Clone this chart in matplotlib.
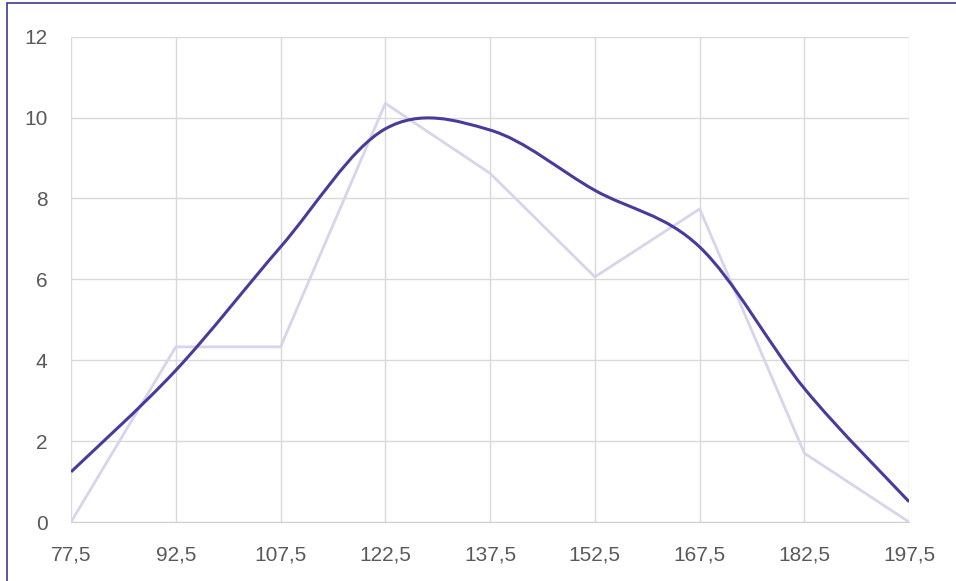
import matplotlib
matplotlib.use("Agg")
import matplotlib.pyplot as plt
import numpy as np
from matplotlib.path import Path
from matplotlib.patches import PathPatch, Rectangle

# class midpoints and the two series
midpoints = [77.5, 92.5, 107.5, 122.5, 137.5, 152.5, 167.5, 182.5, 197.5]
tick_labels = ["77,5", "92,5", "107,5", "122,5", "137,5", "152,5", "167,5", "182,5", "197,5"]
frequency = [0.0, 4.33, 4.33, 10.35, 8.62, 6.06, 7.74, 1.70, 0.0]
fitted = [1.24, 3.75, 6.8, 9.72, 9.69, 8.2, 6.8, 3.3, 0.5]


def smooth_path(x, y):
    """Excel-like smoothed line: cubic Bezier through every point."""
    pts = np.column_stack([x, y])
    verts = [pts[0]]
    codes = [Path.MOVETO]
    n = len(pts)
    for i in range(n - 1):
        p0 = pts[i - 1] if i > 0 else pts[i]
        p1, p2 = pts[i], pts[i + 1]
        p3 = pts[i + 2] if i + 2 < n else pts[i + 1]
        c1 = p1 + (p2 - p0) / 6.0
        c2 = p2 - (p3 - p1) / 6.0
        verts += [c1, c2, p2]
        codes += [Path.CURVE4] * 3
    return Path(verts, codes)


fig = plt.figure(figsize=(9.56, 5.81), dpi=100)
ax = fig.add_axes([0.0743, 0.1015, 0.8767, 0.8355])

grid_color = "#D9D9D9"
ax.plot(midpoints, frequency, color="#D8D4EC", lw=2.0, zorder=3)
ax.add_patch(PathPatch(smooth_path(midpoints, fitted), facecolor="none",
                       edgecolor="#4A3A9C", lw=2.2, zorder=4))

ax.set_xlim(midpoints[0], midpoints[-1])
ax.set_ylim(0, 12)
ax.set_xticks(midpoints)
ax.set_xticklabels(tick_labels)
ax.set_yticks(range(0, 13, 2))
ax.grid(True, color=grid_color, lw=1.0)
ax.set_axisbelow(True)
for side in ["left", "right", "top"]:
    ax.spines[side].set_visible(False)
ax.spines["bottom"].set_color("#D0D0D0")
ax.tick_params(length=0, labelsize=15, labelcolor="#595959")
ax.tick_params(axis="y", pad=17)
ax.tick_params(axis="x", pad=17)
for lab in ax.get_xticklabels() + ax.get_yticklabels():
    lab.set_family("Liberation Sans")

# chart frame (only left and top edges show in the crop)
fig.patches.append(Rectangle((7 / 956, -0.1), 1.2, 1.1 - 3 / 581, transform=fig.transFigure,
                             fill=False, edgecolor="#3E3A8C", lw=1.2))

fig.savefig("out.png", dpi=100)
